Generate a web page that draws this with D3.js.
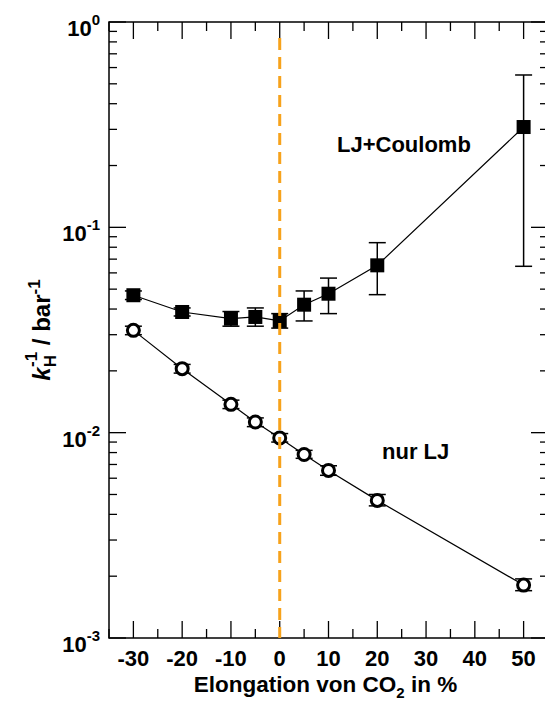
<!DOCTYPE html>
<html>
<head>
<meta charset="utf-8">
<script src="https://cdn.jsdelivr.net/npm/d3@7"></script>
<style>
  html, body { margin: 0; padding: 0; background: #fff; }
  svg { display: block; font-family: "Liberation Sans", Arial, Helvetica, sans-serif; font-weight: bold; }
</style>
</head>
<body>
<div id="chart"></div>
<script>
// Elongation von CO2 (%)
const elongation = [-30, -20, -10, -5, 0, 5, 10, 20, 50];

// LJ+Coulomb (gefüllte Quadrate)
const coulomb   = [0.0467, 0.0387, 0.0359, 0.0366, 0.0350, 0.0420, 0.0475, 0.0653, 0.308];
const coulombLo = [0.0445, 0.0370, 0.0330, 0.0330, 0.0323, 0.0350, 0.0380, 0.0470, 0.0646];
const coulombHi = [0.0490, 0.0405, 0.0389, 0.0405, 0.0380, 0.0490, 0.0566, 0.0842, 0.552];

// nur LJ (offene Kreise)
const ljOnly = [0.0315, 0.0205, 0.01374, 0.01127, 0.00942, 0.00783, 0.00655, 0.00468, 0.00181];
const ljLo   = [0.0300, 0.0195, 0.0131, 0.0107, 0.0090, 0.0075, 0.0062, 0.0044, 0.00170];
const ljHi   = [0.0330, 0.0215, 0.0144, 0.0118, 0.0099, 0.0082, 0.0069, 0.0050, 0.00194];

const xTicks = [-30, -20, -10, 0, 10, 20, 30, 40, 50];
const yTicks = [1, 0.1, 0.01, 0.001];
const yTickExp = ['0', '-1', '-2', '-3'];

const W = 545, H = 702;
const pL = 109, pR = 548, pT = 22, pB = 638;

const svg = d3.select('#chart').append('svg')
    .attr('width', W).attr('height', H);

const x = d3.scaleLinear().domain([-35, 55]).range([pL, pR]);
const y = d3.scaleLog().domain([1e-3, 1]).range([pB, pT]);

// ── Rahmen ───────────────────────────────────────────────────────────
svg.append('rect')
    .attr('x', pL).attr('y', pT)
    .attr('width', pR - pL).attr('height', pB - pT)
    .attr('fill', 'none').attr('stroke', '#000').attr('stroke-width', 1.5);

// ── Ticks (nach innen) ───────────────────────────────────────────────
const xMinor = d3.range(-35, 56, 5).filter(v => v % 10 !== 0);
const gTicks = svg.append('g').attr('stroke', '#000').attr('stroke-width', 1.3);

xTicks.forEach(v => {
    gTicks.append('line').attr('x1', x(v)).attr('x2', x(v)).attr('y1', pB).attr('y2', pB - 17);
    gTicks.append('line').attr('x1', x(v)).attr('x2', x(v)).attr('y1', pT).attr('y2', pT + 17);
});
xMinor.forEach(v => {
    gTicks.append('line').attr('x1', x(v)).attr('x2', x(v)).attr('y1', pB).attr('y2', pB - 9);
    gTicks.append('line').attr('x1', x(v)).attr('x2', x(v)).attr('y1', pT).attr('y2', pT + 9);
});

const yMinor = [];
[1e-3, 1e-2, 1e-1].forEach(dec => d3.range(2, 10).forEach(m => yMinor.push(dec * m)));
yTicks.forEach(v => {
    gTicks.append('line').attr('x1', pL).attr('x2', pL + 17).attr('y1', y(v)).attr('y2', y(v));
    gTicks.append('line').attr('x1', pR).attr('x2', pR - 17).attr('y1', y(v)).attr('y2', y(v));
});
yMinor.forEach(v => {
    gTicks.append('line').attr('x1', pL).attr('x2', pL + 8).attr('y1', y(v)).attr('y2', y(v));
    gTicks.append('line').attr('x1', pR).attr('x2', pR - 8).attr('y1', y(v)).attr('y2', y(v));
});

// ── Tick-Beschriftungen ──────────────────────────────────────────────
svg.append('g').selectAll('text')
    .data(xTicks).join('text')
    .attr('x', d => x(d)).attr('y', pB + 28)
    .attr('text-anchor', 'middle')
    .attr('font-size', 22)
    .text(d => d);

const yLab = svg.append('g').selectAll('text')
    .data(yTicks).join('text')
    .attr('x', 100).attr('y', d => y(d) + 14)
    .attr('text-anchor', 'end')
    .attr('font-size', 22);
yLab.append('tspan').text('10');
yLab.append('tspan').attr('dy', -11).attr('font-size', 15).text((d, i) => yTickExp[i]);

// ── Achsentitel ──────────────────────────────────────────────────────
const xt = svg.append('text')
    .attr('x', (pL + pR) / 2 - 3).attr('y', 692)
    .attr('text-anchor', 'middle')
    .attr('font-size', 22.5);
xt.append('tspan').text('Elongation von CO');
xt.append('tspan').attr('dy', 6).attr('font-size', 15).text('2');
xt.append('tspan').attr('dy', -6).text(' in %');

const yt = svg.append('text')
    .attr('transform', `translate(50,${(pT + pB) / 2}) rotate(-90)`)
    .attr('text-anchor', 'middle')
    .attr('font-size', 24);
yt.append('tspan').attr('font-style', 'italic').text('k');
yt.append('tspan').attr('dy', 6).attr('font-size', 17).text('H');
yt.append('tspan').attr('dx', -12).attr('dy', -19).attr('font-size', 17).text('-1');
yt.append('tspan').attr('dy', 13).text(' / bar');
yt.append('tspan').attr('dy', -10).attr('font-size', 17).text('-1');

// ── Linien ───────────────────────────────────────────────────────────
const line = d3.line().x(d => x(d[0])).y(d => y(d[1]));
const ptsC = elongation.map((e, i) => [e, coulomb[i], coulombLo[i], coulombHi[i]]);
const ptsL = elongation.map((e, i) => [e, ljOnly[i], ljLo[i], ljHi[i]]);

[ptsC, ptsL].forEach(pts => {
    svg.append('path').datum(pts).attr('d', line)
        .attr('fill', 'none').attr('stroke', '#000').attr('stroke-width', 1.2);
});

// ── Fehlerbalken ─────────────────────────────────────────────────────
[ptsC, ptsL].forEach(pts => {
    const g = svg.append('g').attr('stroke', '#000').attr('stroke-width', 1.5);
    pts.forEach(p => {
        const cx = x(p[0]);
        g.append('line').attr('x1', cx).attr('x2', cx).attr('y1', y(p[2])).attr('y2', y(p[3]));
        g.append('line').attr('x1', cx - 8.5).attr('x2', cx + 8.5).attr('y1', y(p[2])).attr('y2', y(p[2]));
        g.append('line').attr('x1', cx - 8.5).attr('x2', cx + 8.5).attr('y1', y(p[3])).attr('y2', y(p[3]));
    });
});

// ── Marker ───────────────────────────────────────────────────────────
svg.append('g').selectAll('rect')
    .data(ptsC).join('rect')
    .attr('x', d => x(d[0]) - 7).attr('y', d => y(d[1]) - 7)
    .attr('width', 14).attr('height', 14)
    .attr('fill', '#000');

svg.append('g').selectAll('circle')
    .data(ptsL).join('circle')
    .attr('cx', d => x(d[0])).attr('cy', d => y(d[1]))
    .attr('r', 6)
    .attr('fill', '#fff').attr('stroke', '#000').attr('stroke-width', 3);

// ── Referenzlinie bei 0 % ────────────────────────────────────────────
svg.append('line')
    .attr('x1', x(0)).attr('x2', x(0)).attr('y1', pT + 16).attr('y2', pB)
    .attr('stroke', '#f7a21b').attr('stroke-width', 3)
    .attr('stroke-dasharray', '12,7');

// ── Beschriftungen ───────────────────────────────────────────────────
svg.append('text').attr('x', 337).attr('y', 152).attr('font-size', 22).text('LJ+Coulomb');
svg.append('text').attr('x', 382).attr('y', 459).attr('font-size', 22).text('nur LJ');
</script>
</body>
</html>
